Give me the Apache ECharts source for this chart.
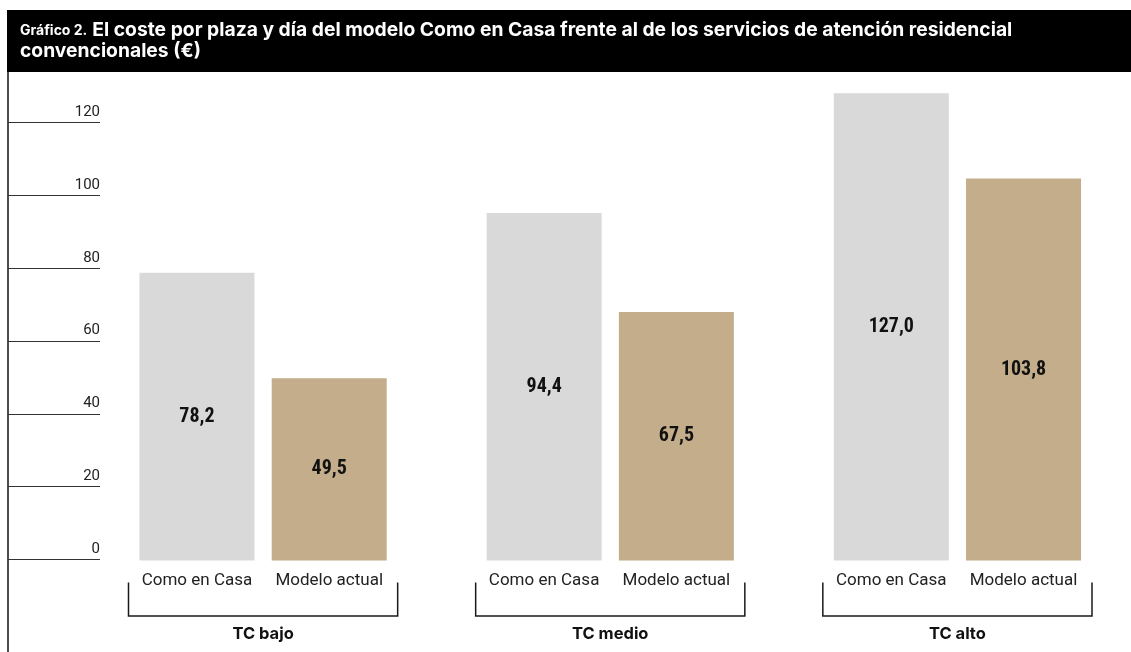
<!DOCTYPE html>
<html>
<head>
<meta charset="utf-8">
<title>Gráfico 2</title>
<script src="https://cdn.jsdelivr.net/npm/echarts@6/dist/echarts.min.js"></script>
<style>
html, body { margin: 0; padding: 0; background: #fff; }
#main { width: 1131px; height: 652px; }
</style>
</head>
<body>
<div id="main"></div>
<script>
// datos
var grupos = ['TC bajo', 'TC medio', 'TC alto'];
var modelos = ['Como en Casa', 'Modelo actual'];
var comoEnCasa = [78.2, 94.4, 127.0];
var modeloActual = [49.5, 67.5, 103.8];
var ticksY = [0, 20, 40, 60, 80, 100, 120];
var colores = ['#d9d9d9', '#c4ad8a'];

function coma(v) {
    return v.toFixed(1).replace('.', ',');
}

var fuente = 'Roboto, "Noto Sans", sans-serif';
var fuenteTit = 'Inter, Roboto, sans-serif';
var fuenteNum = '"Liberation Sans Narrow", "Roboto Condensed", "DejaVu Sans Condensed", Roboto, sans-serif';

var myChart = echarts.init(document.getElementById('main'));

var option = {
    animation: false,
    backgroundColor: '#fff',
    title: {
        left: 7,
        top: 10,
        z: 10,
        padding: [10, 13, 8, 13],
        text: '{a|Gráfico 2.} {b|El coste por plaza y día del modelo Como en Casa frente al de los servicios de atención residencial}\n{b|convencionales (€)}',
        textStyle: {
            rich: {
                a: { fontFamily: fuenteTit, fontSize: 14, fontWeight: 'bold', color: '#fff', lineHeight: 21 },
                b: { fontFamily: fuenteTit, fontSize: 19.3, fontWeight: 'bold', color: '#fff', lineHeight: 21 }
            }
        }
    },
    graphic: [
        { type: 'rect', left: 7, top: 10, z: 0, shape: { width: 1124, height: 62 }, style: { fill: '#000' } },
        { type: 'line', z: 0, shape: { x1: 8, y1: 72, x2: 8, y2: 652 }, style: { stroke: '#111', lineWidth: 1.5 } }
    ],
    grid: [
        // eje de valores (solo etiquetas y lineas cortas)
        { left: 8, width: 92, top: 122.7, bottom: 92.5 },
        // barras
        { left: 89.5, width: 1044, top: 45.3, bottom: 91.5 }
    ],
    xAxis: [
        { gridIndex: 0, type: 'value', show: false },
        {
            gridIndex: 1, type: 'category', data: grupos,
            axisLine: { show: false }, axisTick: { show: false },
            axisLabel: { margin: 65, fontFamily: fuenteTit, fontSize: 16.5, fontWeight: 'bold', color: '#111' }
        },
        { gridIndex: 1, type: 'category', data: grupos, show: false }
    ],
    yAxis: [
        {
            gridIndex: 0, type: 'value',
            min: ticksY[0], max: ticksY[ticksY.length - 1], interval: ticksY[1] - ticksY[0],
            axisLine: { show: false }, axisTick: { show: false },
            splitLine: { show: true, lineStyle: { color: '#333', width: 1 } },
            axisLabel: {
                inside: true, margin: 92, align: 'right', verticalAlign: 'bottom',
                padding: [0, 0, 3, 0],
                fontFamily: fuente, fontSize: 15, color: '#222'
            }
        },
        { gridIndex: 1, type: 'value', min: 0, max: 140, show: false }
    ],
    series: [
        {
            name: modelos[0], type: 'bar', xAxisIndex: 1, yAxisIndex: 1,
            data: comoEnCasa, barWidth: 115, barGap: '15%', clip: false,
            itemStyle: { color: colores[0] },
            label: {
                show: true, position: 'inside',
                fontFamily: fuenteNum, fontSize: 20, fontWeight: 'bold', color: '#111',
                formatter: function (p) { return coma(p.value); }
            }
        },
        {
            name: modelos[1], type: 'bar', xAxisIndex: 1, yAxisIndex: 1,
            data: modeloActual, barWidth: 115, barGap: '15%', clip: false,
            itemStyle: { color: colores[1] },
            label: {
                show: true, position: 'inside',
                fontFamily: fuenteNum, fontSize: 20, fontWeight: 'bold', color: '#111',
                formatter: function (p) { return coma(p.value); }
            }
        },
        // nombres bajo cada barra
        {
            name: modelos[0], type: 'bar', xAxisIndex: 2, yAxisIndex: 1, silent: true,
            data: grupos.map(function () { return 0; }), barWidth: 115, barGap: '15%',
            itemStyle: { color: 'rgba(0,0,0,0)' },
            label: { show: true, position: 'bottom', distance: 12, fontFamily: fuente, fontSize: 17, color: '#222',
                formatter: function (p) { return p.seriesName; } }
        },
        {
            name: modelos[1], type: 'bar', xAxisIndex: 2, yAxisIndex: 1, silent: true,
            data: grupos.map(function () { return 0; }), barWidth: 115, barGap: '15%',
            itemStyle: { color: 'rgba(0,0,0,0)' },
            label: { show: true, position: 'bottom', distance: 12, fontFamily: fuente, fontSize: 17, color: '#222',
                formatter: function (p) { return p.seriesName; } }
        },
        // corchetes de grupo
        {
            type: 'custom', xAxisIndex: 1, yAxisIndex: 1, silent: true,
            data: grupos.map(function (g, i) { return [i, 0]; }),
            encode: { x: 0, y: 1 },
            renderItem: function (params, api) {
                var p = api.coord([api.value(0), 0]);
                var w = api.size([1, 0])[0];
                var h = w / 2 - 39;
                return {
                    type: 'polyline',
                    shape: { points: [[p[0] - h, p[1] + 22], [p[0] - h, p[1] + 55.5], [p[0] + h, p[1] + 55.5], [p[0] + h, p[1] + 22]] },
                    style: { fill: null, stroke: '#1a1a1a', lineWidth: 1.5 }
                };
            }
        }
    ]
};
myChart.setOption(option);
</script>
</body>
</html>
